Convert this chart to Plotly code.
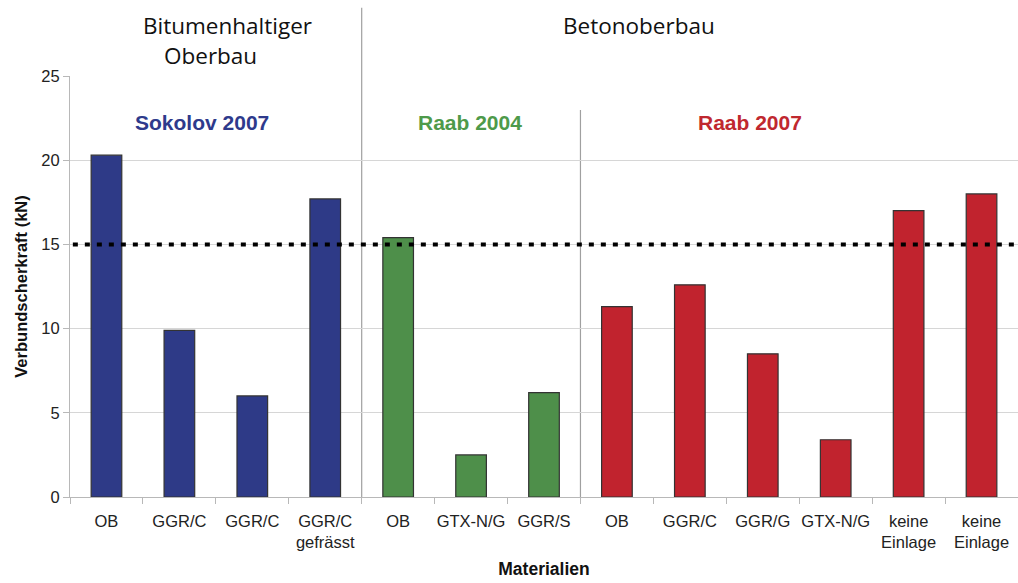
import plotly.graph_objects as go

# Shear bond force per material (kN), grouped by study
labels = ["OB", "GGR/C", "GGR/C", "GGR/C<br>gefrässt",
          "OB", "GTX-N/G", "GGR/S",
          "OB", "GGR/C", "GGR/G", "GTX-N/G", "keine<br>Einlage", "keine<br>Einlage"]
values = [20.3, 9.9, 6.0, 17.7,
          15.4, 2.5, 6.2,
          11.3, 12.6, 8.5, 3.4, 17.0, 18.0]
groups = ["Sokolov 2007"] * 4 + ["Raab 2004"] * 3 + ["Raab 2007"] * 6
group_colors = {"Sokolov 2007": "#2E3A87", "Raab 2004": "#4E8F4A", "Raab 2007": "#C1232E"}
text_colors = {"Sokolov 2007": "#2E3A8C", "Raab 2004": "#4E9A4A", "Raab 2007": "#C0282F"}
threshold = 15

xs = list(range(len(labels)))
colors = [group_colors[g] for g in groups]

fig = go.Figure()
fig.add_trace(go.Bar(
    x=xs, y=values, width=0.42,
    marker=dict(color=colors, line=dict(color="#333333", width=1.2)),
    showlegend=False, hoverinfo="skip",
))

# Required minimum value
fig.add_shape(type="line", xref="paper", x0=0.003, x1=1, yref="y", y0=threshold, y1=threshold,
              line=dict(color="black", width=4, dash="5px,7px"), layer="above")

# Separators between construction types / studies
fig.add_shape(type="line", xref="x", x0=3.5, x1=3.5, yref="paper", y0=0, y1=1.162,
              line=dict(color="#a0a0a0", width=1.2), layer="below")
fig.add_shape(type="line", xref="x", x0=6.5, x1=6.5, yref="paper", y0=0, y1=0.919,
              line=dict(color="#a0a0a0", width=1.2), layer="below")

head_font = dict(family="Open Sans", size=22.5, color="#111111")
fig.add_annotation(x=1.664, y=1.120, xref="x", yref="paper", yanchor="middle",
                   text="Bitumenhaltiger", showarrow=False, font=head_font)
fig.add_annotation(x=1.432, y=1.0487, xref="x", yref="paper", yanchor="middle",
                   text="Oberbau", showarrow=False, font=head_font)
fig.add_annotation(x=7.308, y=1.120, xref="x", yref="paper", yanchor="middle",
                   text="Betonoberbau", showarrow=False, font=head_font)

study_pos = {"Sokolov 2007": 1.308, "Raab 2004": 4.99, "Raab 2007": 8.83}
for name, xpos in study_pos.items():
    fig.add_annotation(x=xpos, y=0.8907, xref="x", yref="paper", yanchor="middle",
                       text="<b>%s</b>" % name, showarrow=False,
                       font=dict(family="Liberation Sans", size=21, color=text_colors[name]))

fig.update_layout(
    width=1018, height=583,
    margin=dict(l=70, r=0, t=76, b=86),
    paper_bgcolor="white", plot_bgcolor="white",
    font=dict(family="Liberation Sans", size=16.5, color="#222222"),
    bargap=0.58,
)
fig.update_xaxes(
    range=[-0.5, 12.5], tickvals=xs, ticktext=labels, ticks="", showgrid=False,
    showline=True, linecolor="#b8b8b8", linewidth=1, zeroline=False,
    ticklabelstandoff=9,
    minor=dict(tick0=-0.5, dtick=1, ticks="outside", ticklen=6, tickcolor="#b8b8b8", showgrid=False),
    title=dict(text="<b>Materialien</b>", font=dict(size=17.5, color="#111111"), standoff=12),
)
fig.update_yaxes(
    range=[0, 25], tickvals=[0, 5, 10, 15, 20, 25], showgrid=True, gridcolor="#d6d6d6", gridwidth=1,
    showline=True, linecolor="#b8b8b8", linewidth=1, zeroline=False,
    ticks="outside", ticklen=6, tickcolor="#b8b8b8",
    title=dict(text="<b>Verbundscherkraft (kN)</b>", font=dict(size=16.5, color="#111111"), standoff=9),
)

fig.write_html("out.html")
